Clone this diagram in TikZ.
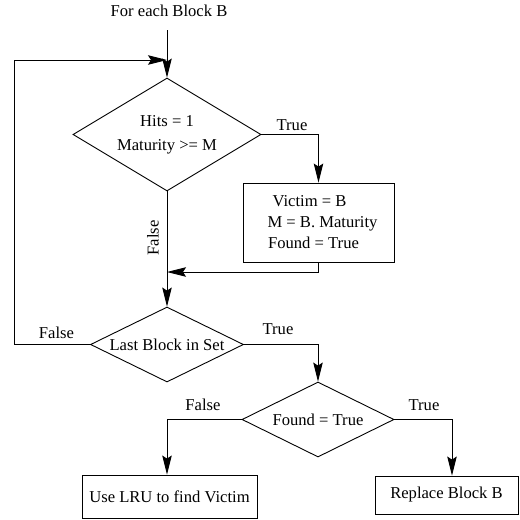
\documentclass[tikz,border=0pt]{standalone}
\usepackage{fontspec}
\setmainfont{Liberation Serif}
\usetikzlibrary{shapes.geometric,arrows.meta}
\begin{document}
\begin{tikzpicture}[x=1pt,y=-1pt,
  every node/.style={font=\fontsize{16.6}{24}\selectfont},
  dia/.style={diamond, draw, inner sep=0pt, line width=0.9pt},
  blk/.style={rectangle, draw, inner sep=0pt, line width=0.9pt},
  lbl/.style={inner sep=0pt},
  conn/.style={line width=0.9pt},
  arr/.style={conn, -{Stealth[length=19pt,width=9.5pt,inset=3pt]}}]
\useasboundingbox (0,0) rectangle (520,520);

% nodes
\node[lbl] (title) at (169,11) {For each Block B};
\coordinate (start) at (167,30);
\node[dia, minimum width=188pt, minimum height=113pt, shape aspect=1.66, align=center] (d1) at (167,134.5) {Hits = 1\\Maturity >= M};
\node[blk, minimum width=151pt, minimum height=79pt, align=center, font=\fontsize{16.6}{21}\selectfont] (box1) at (318.5,222.5) {\makebox[0pt]{\hspace*{-18pt}Victim = B}\\\makebox[0pt]{\hspace*{8pt}M = B. Maturity}\\\makebox[0pt]{\hspace*{-10pt}Found = True}};
\node[dia, minimum width=153pt, minimum height=75pt, shape aspect=2.04] (d2) at (167,344.5) {\makebox[0pt]{Last Block in Set}};
\node[dia, minimum width=152pt, minimum height=75pt, shape aspect=2.03] (d3) at (318,419.5) {\makebox[0pt]{Found = True}};
\node[blk, minimum width=175pt, minimum height=43pt] (lru) at (169.5,496.5) {Use LRU to find Victim};
\node[blk, minimum width=143pt, minimum height=38pt] (rep) at (446.5,495) {Replace Block B};

% helper coordinates
\coordinate (ret) at (167,272);
\coordinate (lc) at (14,60);
\coordinate (lin) at (167,60);
\coordinate (rt) at (452,419.5);

% labels
\node[lbl] (lt1) at (292,125) {True};
\node[lbl, rotate=90] (lf1) at (153,238) {False};
\node[lbl] (lf2) at (56.5,333) {False};
\node[lbl] (lt2) at (278,329) {True};
\node[lbl] (lf3) at (203,405) {False};
\node[lbl] (lt3) at (424,405) {True};

% connectors
\draw[arr] (start) -- (d1.north);
\draw[arr] (d1.east) -| (box1.north);
\draw[arr] (box1.south) |- (ret);
\draw[arr] (d1.south) -- (d2.north);
\draw[arr] (d2.west) -| (lc) -- (lin);
\draw[arr] (d2.east) -| (d3.north);
\draw[arr] (d3.west) -| (lru.north -| d2.south);
\draw[arr] (d3.east) -- (rt) -- (rt |- rep.north);
\end{tikzpicture}
\end{document}
